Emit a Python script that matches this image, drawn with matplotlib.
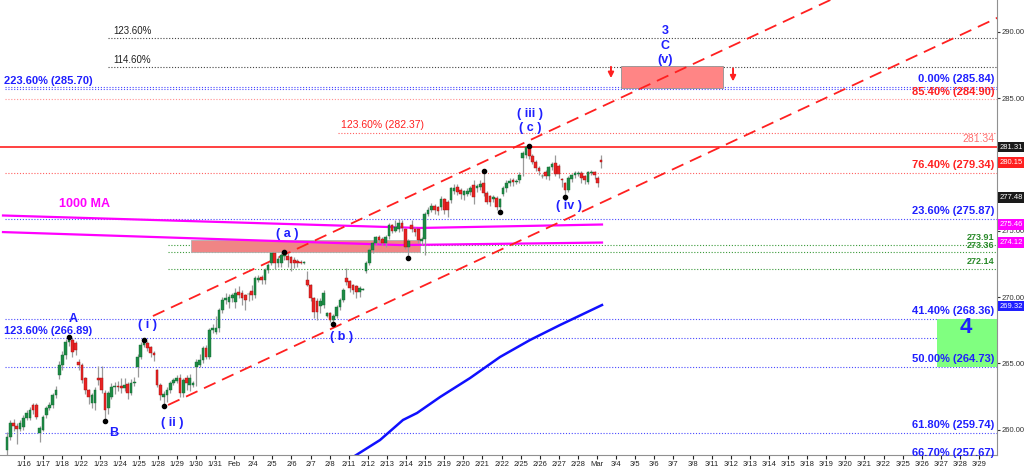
import numpy as np
import matplotlib
matplotlib.use("Agg")
import matplotlib.pyplot as plt
from matplotlib.patches import Rectangle

plt.rcParams['font.family'] = ['Liberation Sans', 'DejaVu Sans']

# ---------------- data ----------------
dates = ["1/16", "1/17", "1/18", "1/22", "1/23", "1/24", "1/25", "1/28", "1/29", "1/30", "1/31", "Feb",
         "2/4", "2/5", "2/6", "2/7", "2/8", "2/11", "2/12", "2/13", "2/14", "2/15", "2/19", "2/20", "2/21",
         "2/22", "2/25", "2/26", "2/27", "2/28", "Mar", "3/4", "3/5", "3/6", "3/7", "3/8", "3/11", "3/12",
         "3/13", "3/14", "3/15", "3/18", "3/19", "3/20", "3/21", "3/22", "3/25", "3/26", "3/27", "3/28", "3/29"]

opens = [
    258.47, 259.45, 260.50, 260.30, 260.05, 260.20, 260.90, 260.90, 261.86, 261.86,
    259.75, 260.00, 261.10, 261.63, 261.86, 262.61, 264.12, 264.88, 265.63, 266.60,
    266.76, 266.50, 265.10, 264.88, 263.90, 262.99, 262.00, 262.00, 263.90, 263.90,
    262.80, 261.60, 262.50, 263.20, 263.30, 263.30, 263.15, 263.45, 262.80, 263.50,
    264.72, 265.50, 266.38, 266.50, 266.20, 265.80, 264.50, 263.37, 262.50, 262.60,
    263.00, 263.50, 263.70, 263.90, 262.76, 263.90, 263.40, 263.40, 264.72, 264.90,
    265.25, 266.16, 265.48, 267.50, 267.40, 267.67, 269.02, 269.80, 269.60, 269.90,
    269.60, 270.40, 270.30, 270.15, 270.20, 270.45,
    270.15, 271.30, 271.50, 271.30, 272.04, 272.60, 273.30, 272.60, 272.60, 273.10,
    273.10, 273.00, 272.80, 272.70, 272.65, 272.60, 271.30, 270.90, 269.90, 269.70,
    269.30, 269.40, 268.60, 268.80, 268.30, 268.60, 269.25, 269.78, 271.40, 271.20,
    270.90, 270.80, 270.40, 270.55, 272.00, 272.60, 273.55, 274.07, 274.50, 274.40,
    274.10, 274.60, 275.40, 275.00,
    275.10, 275.60, 275.10, 273.80, 275.40, 275.10, 275.10, 274.20, 274.40, 276.30,
    276.60, 276.90, 276.80, 276.80, 277.40, 277.20, 277.30, 278.00, 278.30, 278.10,
    277.70, 277.80, 277.90, 278.45, 278.20, 278.30, 278.60, 277.85, 277.60, 277.40,
    277.50, 276.80, 277.80, 278.20, 278.60, 278.80, 278.70, 278.80, 280.50, 280.70,
    281.30, 280.60, 280.20, 279.70, 279.10, 279.40, 279.10, 279.80, 280.10, 279.90,
    278.90, 278.60, 278.10, 278.90, 279.20, 279.30, 279.35, 279.10, 278.70, 279.35,
    279.40, 279.00, 280.30]

highs = [
    259.80, 260.70, 260.80, 260.50, 260.70, 261.10, 261.50, 261.70, 262.00, 262.00,
    260.30, 261.10, 261.80, 262.10, 262.80, 263.30, 265.20, 265.90, 266.80, 266.99,
    266.90, 266.70, 265.30, 265.00, 264.00, 263.10, 262.80, 263.20, 264.80, 264.80,
    263.00, 262.90, 263.50, 263.60, 263.70, 263.90, 263.90, 263.60, 263.80, 264.00,
    265.70, 266.60, 266.76, 266.70, 266.30, 265.90, 264.60, 263.50, 262.90, 263.20,
    263.70, 263.90, 264.10, 264.20, 263.90, 264.10, 264.20, 263.70, 265.30, 265.70,
    266.30, 266.40, 267.70, 268.00, 268.60, 269.20, 270.00, 270.30, 270.20, 270.30,
    270.70, 270.80, 270.50, 270.20, 270.40, 270.90,
    271.60, 271.70, 271.70, 272.20, 272.60, 273.30, 273.35, 273.10, 273.30, 273.40,
    273.30, 273.10, 273.00, 272.90, 272.80, 272.75, 272.00, 271.00, 270.00, 269.90,
    269.90, 270.50, 268.90, 268.90, 268.70, 269.40, 269.90, 270.70, 272.20, 271.30,
    271.00, 270.90, 270.80, 270.70, 272.70, 273.70, 274.20, 274.60, 274.70, 274.50,
    274.70, 275.60, 275.50, 275.80,
    275.90, 275.80, 275.20, 274.40, 275.80, 275.30, 275.20, 274.50, 276.40, 276.80,
    277.10, 277.00, 276.90, 277.60, 277.50, 277.30, 278.30, 278.50, 278.50, 278.20,
    278.10, 278.20, 278.40, 278.80, 278.50, 278.80, 279.51, 278.00, 277.70, 277.70,
    277.60, 277.50, 278.40, 278.80, 279.00, 279.00, 278.90, 279.40, 281.00, 281.35,
    281.39, 280.80, 280.30, 279.90, 279.30, 279.60, 279.90, 280.20, 280.70, 280.00,
    279.00, 278.70, 279.10, 279.30, 279.50, 279.50, 279.50, 279.20, 279.50, 279.60,
    279.50, 279.10, 280.70]

lows = [
    258.10, 259.20, 259.90, 258.90, 259.90, 260.00, 260.70, 260.70, 261.20, 260.80,
    259.10, 259.90, 260.90, 261.50, 261.60, 262.40, 263.80, 264.50, 265.30, 266.30,
    265.50, 265.60, 264.50, 263.50, 262.70, 261.90, 261.60, 261.50, 263.40, 262.80,
    260.65, 261.20, 262.30, 262.70, 262.90, 262.80, 262.90, 262.30, 262.60, 263.30,
    264.00, 265.30, 266.20, 265.90, 265.50, 265.20, 263.20, 262.20, 261.78, 262.10,
    262.80, 263.40, 263.50, 262.50, 262.50, 263.00, 262.90, 263.20, 263.30, 264.70,
    265.00, 265.30, 265.30, 267.30, 267.20, 267.40, 268.80, 269.50, 269.20, 269.60,
    269.20, 269.90, 269.40, 269.00, 269.70, 269.80,
    269.90, 271.10, 271.00, 271.00, 271.80, 272.40, 272.10, 272.30, 272.30, 272.80,
    272.30, 272.00, 272.20, 272.30, 272.50, 272.50, 270.80, 269.70, 268.40, 268.30,
    268.80, 269.20, 268.50, 268.10, 267.98, 268.40, 269.00, 269.60, 270.90, 270.40,
    270.20, 269.90, 270.00, 270.50, 271.80, 272.40, 273.30, 273.90, 274.10, 273.90,
    273.80, 274.40, 274.80, 274.90,
    274.90, 275.00, 273.60, 272.94, 274.90, 274.60, 274.10, 273.90, 273.20, 276.10,
    276.40, 276.30, 276.20, 276.60, 276.30, 276.00, 277.10, 277.80, 277.70, 277.40,
    277.30, 277.60, 277.70, 277.00, 277.90, 278.10, 277.60, 277.00, 276.90, 277.20,
    276.60, 276.41, 277.60, 277.90, 278.40, 278.40, 278.50, 278.60, 279.10, 280.50,
    280.40, 280.00, 279.50, 279.20, 279.00, 278.90, 278.80, 279.60, 279.10, 279.00,
    278.30, 277.54, 277.90, 278.70, 279.00, 279.10, 278.60, 278.50, 278.50, 279.20,
    278.90, 278.30, 279.70]

closes = [
    259.45, 260.50, 260.30, 260.05, 260.50, 260.88, 261.26, 261.48, 261.50, 260.95,
    260.13, 260.95, 261.63, 261.86, 262.61, 262.99, 264.88, 265.63, 266.61, 266.76,
    265.85, 266.00, 264.88, 263.74, 262.99, 262.46, 262.61, 262.99, 263.74, 262.99,
    261.48, 262.76, 263.22, 263.30, 263.22, 263.15, 263.37, 262.76, 263.52, 263.60,
    265.48, 266.38, 266.55, 266.16, 265.78, 265.63, 263.37, 262.61, 262.70, 262.99,
    263.52, 263.74, 263.90, 262.76, 263.74, 263.52, 263.90, 263.52, 265.10, 265.25,
    266.16, 265.48, 267.51, 267.67, 267.67, 269.02, 269.78, 269.90, 270.00, 270.15,
    270.30, 270.15, 269.96, 269.78, 270.20, 270.15,
    271.43, 271.45, 271.28, 272.04, 272.42, 273.30, 272.60, 272.90, 273.20, 273.30,
    272.80, 272.60, 272.60, 272.60, 272.60, 272.65, 270.90, 269.90, 268.90, 268.90,
    269.70, 270.30, 268.80, 268.30, 268.60, 269.25, 269.78, 270.53, 271.10, 270.70,
    270.50, 270.40, 270.70, 270.60, 272.60, 273.55, 274.07, 274.50, 274.30, 274.10,
    274.50, 275.40, 275.00, 275.30,
    275.60, 275.20, 273.80, 274.20, 275.10, 274.90, 274.30, 274.40, 276.30, 276.60,
    276.90, 276.60, 276.50, 277.40, 276.60, 276.60, 278.20, 278.20, 277.90, 277.80,
    278.00, 278.00, 278.20, 277.55, 278.40, 278.50, 277.85, 277.20, 277.20, 277.55,
    276.80, 277.40, 278.20, 278.60, 278.75, 278.65, 278.70, 279.20, 280.90, 281.30,
    280.60, 280.20, 279.70, 279.50, 279.15, 279.10, 279.80, 280.00, 279.30, 279.30,
    278.80, 278.10, 279.00, 279.20, 279.35, 279.30, 279.00, 278.80, 279.40, 279.45,
    279.20, 278.60, 280.15]

# moving averages (sampled along the curve: day position, value)
ma1000_upper_day = [-1.10, 20.73, 30.26]
ma1000_upper_val = [276.15, 275.21, 275.47]
ma1000_lower_day = [-1.10, 19.70, 30.26]
ma1000_lower_val = [274.90, 273.92, 274.11]
ma_blue_day = [16.81, 18.64, 19.84, 20.58, 21.78, 23.35, 24.92, 26.49, 28.06, 30.26]
ma_blue_val = [257.56, 259.22, 260.73, 261.26, 262.46, 263.89, 265.48, 266.76, 267.89, 269.40]

# trend channel (day, price)
chan_upper_day = [6.75, 44.0]
chan_upper_val = [268.57, 293.60]
chan_lower_day = [7.54, 51.5]
chan_lower_val = [261.86, 291.42]

# pivots marked with black dots
pivot_high_vals = [266.99, 266.76, 273.40, 279.51, 281.39]
pivot_low_vals = [260.65, 261.78, 267.98, 272.94, 276.41, 277.54]

# fib / level lines
blue_levels = [285.84, 285.70, 275.87, 268.36, 266.89, 264.73, 259.74, 257.67]
blue_right_labels = {285.84: "0.00% (285.84)", 275.87: "23.60% (275.87)", 268.36: "41.40% (268.36)",
                     264.73: "50.00% (264.73)", 259.74: "61.80% (259.74)", 257.67: "66.70% (257.67)"}
blue_left_labels = {285.70: "223.60% (285.70)", 266.89: "123.60% (266.89)"}
black_levels = [289.51, 287.37]
black_labels = ["123.60%", "114.60%"]
green_levels = [273.91, 273.36, 272.14]
red_dotted_levels = [284.90, 279.34]
red_dotted_labels = ["85.40% (284.90)", "76.40% (279.34)"]
red_ext_level = 282.37
red_solid_level = 281.34

# right-hand price flags
flag_vals = [281.31, 280.15, 277.48, 275.46, 274.12, 269.32]
flag_colors = ["#1a1a1a", "#ff2020", "#1a1a1a", "#ff00ff", "#ff00ff", "#2020ff"]
ytick_vals = [260, 265, 270, 275, 285, 290]

# ---------------- figure ----------------
BLUE = "#1f1fff"
RED = "#ff2020"
GREEN_T = "#2a8a2a"
XMIN, XMAX = -1.257, 50.94
YMIN, YMAX = 258.09, 292.40

fig = plt.figure(figsize=(10.24, 4.70), dpi=100)
ax = fig.add_axes([0, 15 / 470, 997 / 1024, 455 / 470])
ax.set_xlim(XMIN, XMAX)
ax.set_ylim(YMIN, YMAX)

dot = (0, (1, 1.6))

# level lines
for v in blue_levels:
    ax.hlines(v, -1.0, XMAX, colors="#4a4aff", linestyles=dot, lw=0.8, zorder=1)
for v in black_levels:
    ax.hlines(v, 4.40, XMAX, colors="#444444", linestyles=dot, lw=0.8, zorder=1)
for v in green_levels:
    ax.hlines(v, 7.54, XMAX, colors="#3a9a3a", linestyles=dot, lw=0.8, zorder=1)
ax.hlines(red_dotted_levels[0], -1.0, XMAX, colors="#ff9090", linestyles=dot, lw=0.8, zorder=1)
ax.hlines(red_dotted_levels[1], -1.0, XMAX, colors="#ff6060", linestyles=dot, lw=0.8, zorder=1)
ax.hlines(red_ext_level, 16.44, XMAX, colors="#ff6060", linestyles=dot, lw=0.8, zorder=1)
ax.hlines(red_solid_level, XMIN, XMAX, colors="#ff4040", lw=1.4, zorder=1)

# shaded zones
ax.add_patch(Rectangle((8.74, 273.36), 20.73 - 8.74, 274.30 - 273.36, fc="#f08585",
                       ec="#b0b0b0", lw=0.6, zorder=1.5))
ax.add_patch(Rectangle((31.26, 285.76), 36.6 - 31.26, 287.40 - 285.76, fc="#ff8585",
                       ec="#909090", lw=0.6, zorder=1.5))
ax.add_patch(Rectangle((47.8, 264.73), XMAX - 47.8, 268.36 - 264.73, fc="#80ff80",
                       ec="none", zorder=1.5))

# moving averages
ax.plot(ma1000_upper_day, ma1000_upper_val, color="#ff00ff", lw=1.6, zorder=2)
ax.plot(ma1000_lower_day, ma1000_lower_val, color="#ff00ff", lw=1.6, zorder=2)
ax.plot(ma_blue_day, ma_blue_val, color="#1010ff", lw=1.8, zorder=2)

# channel
ax.plot(chan_upper_day, chan_upper_val, color=RED, lw=1.3, ls=(0, (7, 4)), zorder=2.5)
ax.plot(chan_lower_day, chan_lower_val, color=RED, lw=1.3, ls=(0, (7, 4)), zorder=2.5)

# candles
o = np.array(opens); h = np.array(highs); l = np.array(lows); c = np.array(closes)
n = len(c)
xs = np.linspace((7 - 24) / 19.1, (601 - 24) / 19.1, n)
ax.vlines(xs, l, h, colors="#9a9a9a", lw=0.9, zorder=3)
up = c >= o
body_lo = np.minimum(o, c)
body_h = np.maximum(np.abs(c - o), 0.05)
ax.bar(xs[up], body_h[up], bottom=body_lo[up], width=0.14, color="#1e8a45",
       edgecolor="#136b32", lw=0.3, zorder=3.5)
ax.bar(xs[~up], body_h[~up], bottom=body_lo[~up], width=0.14, color="#e82424",
       edgecolor="#a01010", lw=0.3, zorder=3.5)

# pivot dots
for v in pivot_high_vals:
    i = int(np.argmin(np.abs(h - v)))
    ax.plot(xs[i], h[i], "o", color="black", ms=3, zorder=4)
for v in pivot_low_vals:
    i = int(np.argmin(np.abs(l - v)))
    ax.plot(xs[i], l[i], "o", color="black", ms=3, zorder=4)

# level labels
RX = 50.8
LX = -1.05
for v, t in blue_right_labels.items():
    ax.annotate(t, (RX, v), xytext=(0, 2), textcoords="offset points", ha="right", va="bottom",
                color=BLUE, fontsize=8, fontweight="bold", zorder=5, annotation_clip=False)
for v, t in blue_left_labels.items():
    ax.annotate(t, (LX, v), xytext=(0, 2), textcoords="offset points", ha="left", va="bottom",
                color=BLUE, fontsize=8, fontweight="bold", zorder=5)
for v, t in zip(black_levels, black_labels):
    ax.annotate(t, (4.65, v), xytext=(0, 1.5), textcoords="offset points", ha="left", va="bottom",
                color="#222222", fontsize=7, zorder=5)
for v, t in zip(red_dotted_levels, red_dotted_labels):
    ax.annotate(t, (RX, v), xytext=(0, 2), textcoords="offset points", ha="right", va="bottom",
                color=RED, fontsize=8, fontweight="bold", zorder=5)
ax.annotate("123.60% (282.37)", (16.6, red_ext_level), xytext=(0, 2), textcoords="offset points",
            ha="left", va="bottom", color=RED, fontsize=7.5, zorder=5)
ax.annotate("281.34", (RX, red_solid_level), xytext=(0, 2), textcoords="offset points",
            ha="right", va="bottom", color="#ff7070", fontsize=7.5, zorder=5)
for v in green_levels:
    ax.annotate(f"{v:.2f}", (RX, v), xytext=(0, 2), textcoords="offset points", ha="right",
                va="bottom", color=GREEN_T, fontsize=6.5, fontweight="bold", zorder=5)

# wave labels
wave = [("A", 2.57, 268.34), ("B", 4.71, 259.75), ("( i )", 6.44, 267.89), ("( ii )", 7.75, 260.50),
        ("( a )", 13.77, 274.75), ("( b )", 16.65, 266.99), ("( iii )", 26.49, 283.80),
        ("( c )", 26.49, 282.75), ("( iv )", 28.53, 276.86), ("3", 33.56, 290.06),
        ("C", 33.56, 288.93), ("(v)", 33.56, 287.88)]
for t, x, y in wave:
    ax.text(x, y, t, color=BLUE, fontsize=9, fontweight="bold", ha="center", va="center", zorder=5)
ax.text(3.19, 277.02, "1000 MA", color="#ff00ff", fontsize=9, fontweight="bold",
        ha="center", va="center", zorder=5)
ax.text(49.3, 267.67, "4", color=BLUE, fontsize=16, fontweight="bold", ha="center", va="center",
        zorder=5)

# arrows
for xa, y0, y1 in [(30.73, 287.57, 286.30), (37.12, 287.45, 286.05)]:
    ax.annotate("", xy=(xa, y1), xytext=(xa, y0),
                arrowprops=dict(arrowstyle="-|>", color=RED, lw=1.4, mutation_scale=8), zorder=5)

# axes styling
for s in ["top", "left"]:
    ax.spines[s].set_visible(False)
ax.spines["right"].set_color("#909090")
ax.spines["bottom"].set_color("#909090")
ax.yaxis.tick_right()
ax.set_yticks(ytick_vals)
ax.set_yticklabels([f"{v:.2f}" for v in ytick_vals])
ax.tick_params(axis="y", labelsize=5.5, length=2, pad=1, colors="#333333")
ax.set_xticks(range(len(dates)))
ax.set_xticklabels(dates)
ax.tick_params(axis="x", labelsize=5.5, length=3, pad=1.5, colors="#222222")

ytr = ax.get_yaxis_transform()
for v, col in zip(flag_vals, flag_colors):
    ax.text(1.003, v, f"{v:.2f}", transform=ytr, fontsize=5.5, color="white", ha="left", va="center",
            zorder=6, clip_on=False,
            bbox=dict(boxstyle="square,pad=0.25", fc=col, ec="none"))

fig.savefig("out.png", dpi=100)
